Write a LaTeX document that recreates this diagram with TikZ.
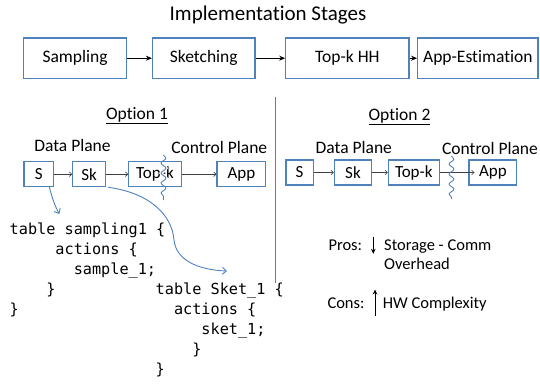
\documentclass[tikz,border=0pt]{standalone}
\usepackage{fontspec}
\setmainfont{Carlito}[Ligatures={NoCommon,NoRare}]
\newfontfamily\codefont{DejaVu Sans Mono}
\usetikzlibrary{arrows.meta,decorations.pathmorphing}
\definecolor{obl}{RGB}{79,129,189}
\begin{document}
\begin{tikzpicture}[x=1pt,y=-1pt,
  bigbox/.style={draw=obl,line width=1.2pt,inner sep=0pt,minimum height=40.6pt,font=\fontsize{17.5}{20}\selectfont},
  smallbox/.style={draw=obl,line width=1.2pt,inner sep=0pt,minimum height=25pt,font=\fontsize{17}{20}\selectfont},
  bigarrow/.style={-{Stealth[length=6pt,width=5pt]},line width=0.9pt,black},
  smallarrow/.style={-{To[length=3pt,width=5pt]},line width=0.6pt,black!75},
  curvarrow/.style={-{Straight Barb[length=4pt,width=7pt]},line width=0.9pt,obl},
  lbl/.style={inner sep=0pt,font=\fontsize{17.5}{20}\selectfont},
  code/.style={inner sep=0pt,anchor=base west,font=\codefont\fontsize{15.2}{20}\selectfont},
  pc/.style={inner sep=0pt,anchor=base west,font=\fontsize{16.5}{20}\selectfont},
  pcarrow/.style={-{Stealth[length=5pt,width=4.5pt]},line width=1pt,black},
  squig/.style={obl,line width=0.9pt,decorate,decoration={snake,amplitude=2.4pt,segment length=10pt}},
  squigbg/.style={white,line width=3.5pt,decorate,decoration={snake,amplitude=2.4pt,segment length=10pt}},
]
\useasboundingbox (0,0) rectangle (540,383);

% title and top row
\node[inner sep=0pt,font=\fontsize{21}{24}\selectfont] (title) at (268,15.5) {Implementation Stages};
\node[bigbox,minimum width=102.6pt] (samp) at (75.1,58.2) {Sampling};
\node[bigbox,minimum width=102.5pt] (sket) at (203.75,58.2) {Sketching};
\node[bigbox,minimum width=123.2pt] (topk) at (347.4,58.2) {Top-k HH};
\node[bigbox,minimum width=120.3pt] (appe) at (477.85,58.2) {App-Estimation};
\draw[bigarrow] (samp) -- (sket);
\draw[bigarrow] (sket) -- (topk);
\draw[bigarrow] (topk) -- (appe);

% divider
\coordinate (divtop) at (275.7,97);
\coordinate (divbot) at (275.7,283);
\draw[obl,line width=0.9pt] (divtop) -- (divbot);

% option 1
\node[lbl] (opt1) at (137,115.7) {\underline{Option 1}};
\node[lbl] (dp1) at (72.5,145.7) {Data Plane};
\node[lbl] (cp1) at (219.3,147.7) {Control Plane};
\node[smallbox,minimum width=29.7pt] (s1) at (38.85,174.2) {S};
\node[smallbox,minimum width=33pt] (sk1) at (89.2,174.2) {Sk};
\node[smallbox,minimum width=52.6pt] (t1) at (155,174.2) {Top-k};
\node[smallbox,minimum width=48.7pt] (a1) at (241.35,174.2) {App};
\draw[smallarrow] (s1) -- (sk1);
\draw[smallarrow] (sk1) -- (t1);
\draw[smallarrow] (t1) -- (a1);
\coordinate (sq1a) at (163.5,155);
\coordinate (sq1b) at (163.5,200);
\begin{scope}
  \clip (130,163) rectangle (180,185.5);
  \draw[squigbg] (sq1a) -- (sq1b);
\end{scope}
\draw[squig] (sq1a) -- (sq1b);

% option 2
\node[lbl] (opt2) at (399.5,116.7) {\underline{Option 2}};
\node[lbl] (dp2) at (353.8,147.3) {Data Plane};
\node[lbl] (cp2) at (490,148) {Control Plane};
\node[smallbox,minimum width=27.3pt] (s2) at (299.65,172.5) {S};
\node[smallbox,minimum width=37.4pt] (sk2) at (353,172.5) {Sk};
\node[smallbox,minimum width=51pt] (t2) at (413.8,172.5) {Top-k};
\node[smallbox,minimum width=47.7pt] (a2) at (492.85,172.5) {App};
\draw[smallarrow] (s2) -- (sk2);
\draw[smallarrow] (sk2) -- (t2);
\draw[smallarrow] (t2.east) -- ([xshift=6pt]a2.west);
\coordinate (sq2a) at (451.5,156);
\coordinate (sq2b) at (451.5,199);
\draw[squig] (sq2a) -- (sq2b);

% code block 1
\node[code] (c1a) at (9.5,234) {table sampling1 \{};
\node[code] (c1b) at (55.25,254) {actions \{};
\node[code] (c1c) at (73.55,274) {sample\_1;};
\node[code] (c1d) at (46.1,294) {\}};
\node[code] (c1e) at (9.5,314) {\}};

% code block 2
\node[code] (c2a) at (155.5,294.5) {table Sket\_1 \{};
\node[code] (c2b) at (173.8,314.5) {actions \{};
\node[code] (c2c) at (201.25,334.5) {sket\_1;};
\node[code] (c2d) at (192.1,354.5) {\}};
\node[code] (c2e) at (155.5,374.5) {\}};

% curved arrows
\coordinate (ca1s) at (49.3,186.7);
\coordinate (ca1e) at (59.3,214);
\draw[curvarrow] (ca1s) .. controls (52,198) and (55,206) .. (ca1e);
\coordinate (ca2s) at ([xshift=2pt]sk1.south east);
\coordinate (ca2m) at (174,240);
\coordinate (ca2e) at (227,271);
\draw[curvarrow] (ca2s) .. controls (150,193) and (172,215) .. (ca2m)
  .. controls (176,260) and (198,270) .. (ca2e);

% pros / cons
\node[pc] (pros) at (328.3,250.3) {Pros:};
\coordinate (dna) at (373.3,236.7);
\coordinate (dnb) at (373.3,253.8);
\draw[pcarrow] (dna) -- (dnb);
\node[pc] (pros1) at (384,250.3) {Storage - Comm};
\node[pc] (pros2) at (384,269.3) {Overhead};
\node[pc] (cons) at (327.3,308.6) {Cons:};
\coordinate (upa) at (375,315.5);
\coordinate (upb) at (375,289.5);
\draw[pcarrow] (upa) -- (upb);
\node[pc] (cons1) at (382.7,308.6) {HW Complexity};
\end{tikzpicture}
\end{document}
